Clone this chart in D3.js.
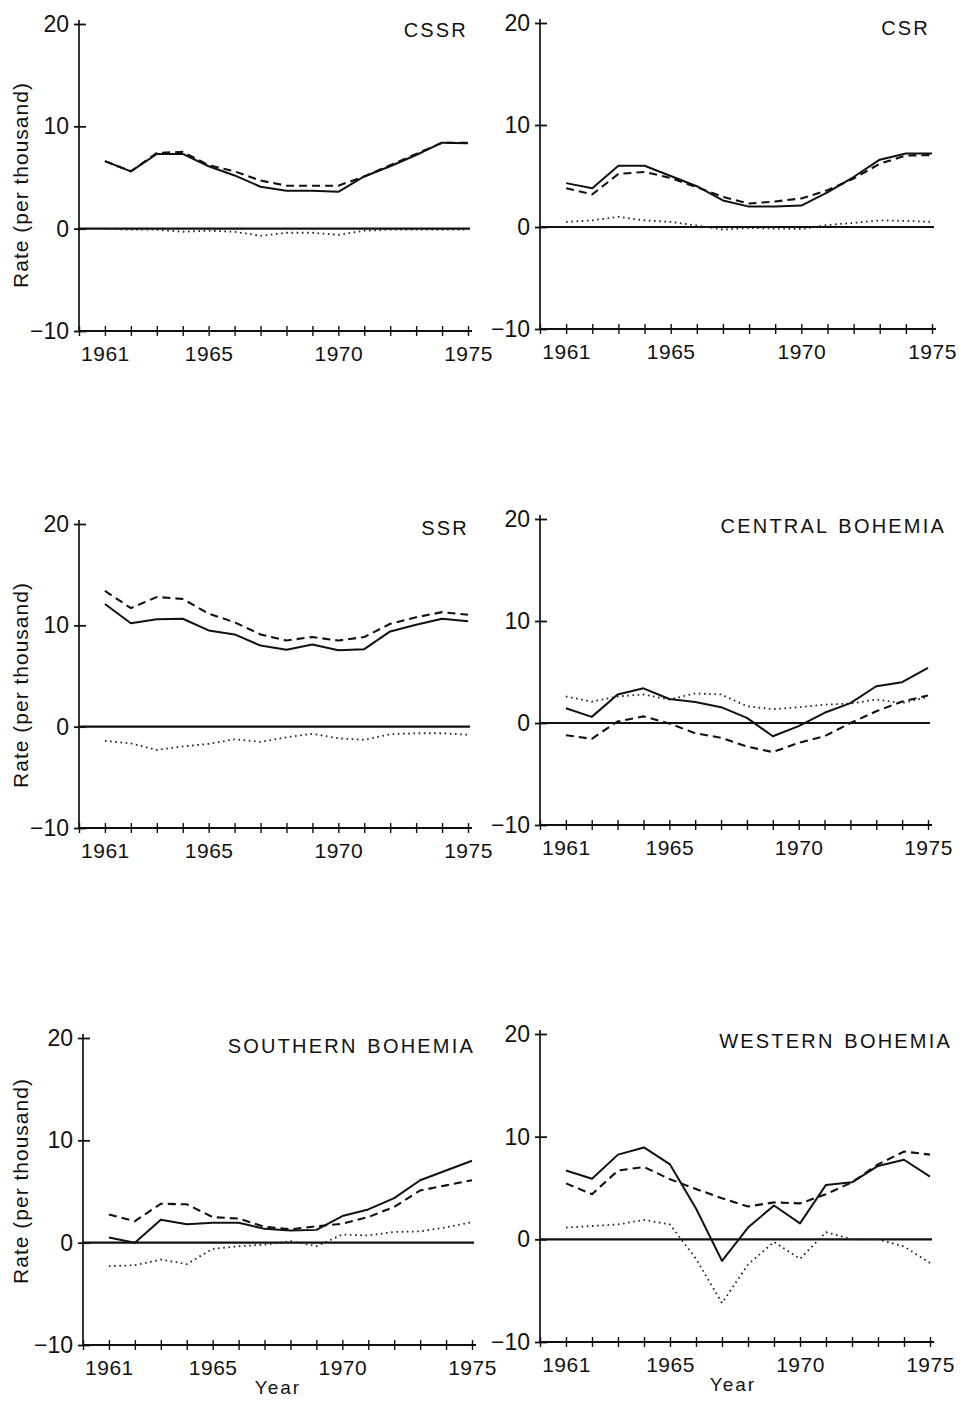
<!DOCTYPE html>
<html>
<head>
<meta charset="utf-8">
<script src="https://cdn.jsdelivr.net/npm/d3@7/dist/d3.min.js"></script>
<style>
body { margin: 0; background: #fff; }
text { font-family: "Liberation Sans", Arial, sans-serif; fill: #111; }
</style>
</head>
<body>
<div id="chart"></div>
<script>

// Setting the svg area
var svgWidth = 960;
var svgHeight = 1401;

// Years on the x axis
var years = [1961, 1962, 1963, 1964, 1965, 1966, 1967, 1968, 1969, 1970, 1971, 1972, 1973, 1974, 1975];
var tickYears = [1960, 1961, 1962, 1963, 1964, 1965, 1966, 1967, 1968, 1969, 1970, 1971, 1972, 1973, 1974, 1975];
var labelYears = [1961, 1965, 1970, 1975];
var rateTicks = [-10, 0, 10, 20];

// Rates per thousand: total increase (solid), natural increase (dashed), migration (dotted)
var cssrTotal     = [6.6, 5.6, 7.3, 7.3, 6.1, 5.2, 4.1, 3.7, 3.7, 3.6, 5.1, 6.1, 7.2, 8.4, 8.35];
var cssrNatural   = [6.6, 5.6, 7.4, 7.5, 6.2, 5.6, 4.7, 4.2, 4.2, 4.2, 5.1, 6.2, 7.3, 8.4, 8.4];
var cssrMigration = [0, -0.1, -0.1, -0.3, -0.2, -0.3, -0.7, -0.4, -0.4, -0.6, -0.2, -0.1, -0.1, -0.1, -0.1];

var csrTotal     = [4.3, 3.8, 6.0, 6.0, 5.0, 4.0, 2.6, 2.0, 2.0, 2.1, 3.4, 4.9, 6.6, 7.2, 7.2];
var csrNatural   = [3.8, 3.2, 5.2, 5.4, 4.8, 3.9, 2.95, 2.3, 2.5, 2.8, 3.6, 4.75, 6.2, 7.0, 7.05];
var csrMigration = [0.5, 0.65, 1.0, 0.65, 0.5, 0.15, -0.25, -0.1, -0.15, -0.2, 0.2, 0.4, 0.65, 0.6, 0.5];

var ssrTotal     = [12.1, 10.2, 10.6, 10.65, 9.5, 9.1, 8.0, 7.6, 8.1, 7.55, 7.65, 9.4, 10.05, 10.65, 10.4];
var ssrNatural   = [13.4, 11.7, 12.8, 12.6, 11.15, 10.3, 9.1, 8.5, 8.85, 8.5, 8.85, 10.15, 10.8, 11.3, 11.05];
var ssrMigration = [-1.4, -1.65, -2.3, -1.95, -1.7, -1.25, -1.5, -1.05, -0.7, -1.15, -1.3, -0.75, -0.65, -0.65, -0.8];

var centralTotal     = [1.45, 0.6, 2.8, 3.4, 2.35, 2.05, 1.55, 0.5, -1.3, -0.3, 1.0, 1.95, 3.6, 4.0, 5.4];
var centralNatural   = [-1.2, -1.55, 0.15, 0.65, -0.05, -1.0, -1.45, -2.3, -2.85, -1.95, -1.3, 0, 1.15, 2.1, 2.7];
var centralMigration = [2.6, 2.1, 2.6, 2.8, 2.3, 2.9, 2.8, 1.65, 1.35, 1.55, 1.8, 1.9, 2.3, 1.95, 2.55];

var southernTotal     = [0.5, 0.0, 2.25, 1.8, 1.95, 1.95, 1.35, 1.2, 1.25, 2.6, 3.25, 4.35, 6.1, 7.05, 8.0];
var southernNatural   = [2.75, 2.1, 3.8, 3.75, 2.5, 2.35, 1.55, 1.3, 1.6, 1.85, 2.5, 3.5, 5.1, 5.6, 6.1];
var southernMigration = [-2.3, -2.2, -1.65, -2.1, -0.6, -0.35, -0.2, 0.15, -0.35, 0.8, 0.7, 1.05, 1.1, 1.5, 2.0];

var westernTotal     = [6.7, 5.9, 8.25, 8.95, 7.3, 3.0, -2.1, 1.15, 3.3, 1.55, 5.3, 5.55, 7.15, 7.75, 6.1];
var westernNatural   = [5.45, 4.4, 6.7, 7.05, 5.85, 4.9, 4.0, 3.2, 3.6, 3.5, 4.4, 5.55, 7.3, 8.55, 8.25];
var westernMigration = [1.15, 1.3, 1.45, 1.9, 1.45, -1.9, -6.2, -2.45, -0.25, -1.9, 0.7, 0, 0, -0.7, -2.3];

var titles = ["CSSR", "CSR", "SSR", "CENTRAL BOHEMIA", "SOUTHERN BOHEMIA", "WESTERN BOHEMIA"];

// Where each small chart sits on the page
var panels = [
  {total: cssrTotal, natural: cssrNatural, migration: cssrMigration, left: 79, right: 468, top: 24, bottom: 331, titleX: 466, titleY: 37, rateLabelY: 185},
  {total: csrTotal, natural: csrNatural, migration: csrMigration, left: 540, right: 932, top: 23, bottom: 329, titleX: 928, titleY: 35},
  {total: ssrTotal, natural: ssrNatural, migration: ssrMigration, left: 79, right: 468, top: 524, bottom: 828, titleX: 467, titleY: 535, rateLabelY: 685},
  {total: centralTotal, natural: centralNatural, migration: centralMigration, left: 540, right: 928, top: 519, bottom: 825, titleX: 944, titleY: 533},
  {total: southernTotal, natural: southernNatural, migration: southernMigration, left: 83, right: 472, top: 1038, bottom: 1345, titleX: 473, titleY: 1053, rateLabelY: 1181, yearX: 278, yearY: 1394},
  {total: westernTotal, natural: westernNatural, migration: westernMigration, left: 540, right: 930, top: 1034, bottom: 1342, titleX: 950, titleY: 1048, yearX: 733, yearY: 1391}
];

var svg = d3.select("#chart")
            .append("svg")
            .attr("width", svgWidth)
            .attr("height", svgHeight);

panels.forEach(function(p, k) {
    var g = svg.append("g");

    var xScale = d3.scaleLinear().domain([1960, 1975]).range([p.left, p.right]);
    var yScale = d3.scaleLinear().domain([-10, 20]).range([p.bottom, p.top]);

    // x axis with crossing ticks for every year
    var xAxis = g.append("g")
                 .attr("transform", `translate(0, ${p.bottom})`)
                 .call(d3.axisBottom(xScale)
                         .tickValues(tickYears)
                         .tickSize(5)
                         .tickSizeOuter(0)
                         .tickPadding(10)
                         .tickFormat(d => labelYears.indexOf(d) >= 0 ? d : ""));
    xAxis.select(".domain").remove();
    xAxis.selectAll(".tick line").attr("y1", -5).attr("stroke", "#111").attr("stroke-width", 1.4);
    xAxis.selectAll(".tick text")
         .attr("font-size", "21px")
         .attr("letter-spacing", "0.5px")
         .attr("fill", "#111");
    xAxis.append("line")
         .attr("x1", p.left).attr("x2", p.right + 4)
         .attr("y1", 0).attr("y2", 0)
         .attr("stroke", "#111")
         .attr("stroke-width", 2.2);

    // y axis with crossing ticks
    var yAxis = g.append("g")
                 .attr("transform", `translate(${p.left}, 0)`)
                 .call(d3.axisLeft(yScale)
                         .tickValues(rateTicks)
                         .tickSize(5)
                         .tickSizeOuter(0)
                         .tickPadding(5));
    yAxis.select(".domain").remove();
    yAxis.selectAll(".tick line").attr("x1", 7).attr("stroke", "#111").attr("stroke-width", 1.8);
    yAxis.selectAll(".tick text")
         .attr("font-size", "23px")
         .attr("fill", "#111");
    yAxis.append("line")
         .attr("x1", 0).attr("x2", 0)
         .attr("y1", p.bottom).attr("y2", p.top - 4)
         .attr("stroke", "#111")
         .attr("stroke-width", 1.7);

    // zero line
    g.append("line")
     .attr("x1", xScale(1960)).attr("x2", xScale(1975) + 2)
     .attr("y1", yScale(0)).attr("y2", yScale(0))
     .attr("stroke", "#111")
     .attr("stroke-width", 2.2);

    var line = d3.line()
                 .x((d, i) => xScale(years[i]))
                 .y(d => yScale(d));

    g.append("path")
     .attr("d", line(p.migration))
     .attr("fill", "none")
     .attr("stroke", "#222")
     .attr("stroke-width", 1.8)
     .attr("stroke-dasharray", "1.6,3.6");

    g.append("path")
     .attr("d", line(p.natural))
     .attr("fill", "none")
     .attr("stroke", "#111")
     .attr("stroke-width", 2.1)
     .attr("stroke-dasharray", "8,5");

    g.append("path")
     .attr("d", line(p.total))
     .attr("fill", "none")
     .attr("stroke", "#111")
     .attr("stroke-width", 2)
     .attr("stroke-linejoin", "round");

    // panel title
    g.append("text")
     .attr("x", p.titleX + 2)
     .attr("y", p.titleY)
     .attr("text-anchor", "end")
     .attr("font-size", "20px")
     .attr("letter-spacing", "2.2px")
     .attr("word-spacing", "2px")
     .text(titles[k]);

    if (p.rateLabelY) {
        g.append("text")
         .attr("transform", `translate(28, ${p.rateLabelY}) rotate(-90)`)
         .attr("text-anchor", "middle")
         .attr("font-size", "21px")
         .attr("letter-spacing", "1px")
         .text("Rate (per thousand)");
    }

    if (p.yearX) {
        g.append("text")
         .attr("x", p.yearX)
         .attr("y", p.yearY)
         .attr("text-anchor", "middle")
         .attr("font-size", "19px")
         .attr("letter-spacing", "2px")
         .text("Year");
    }
});

</script>
</body>
</html>
